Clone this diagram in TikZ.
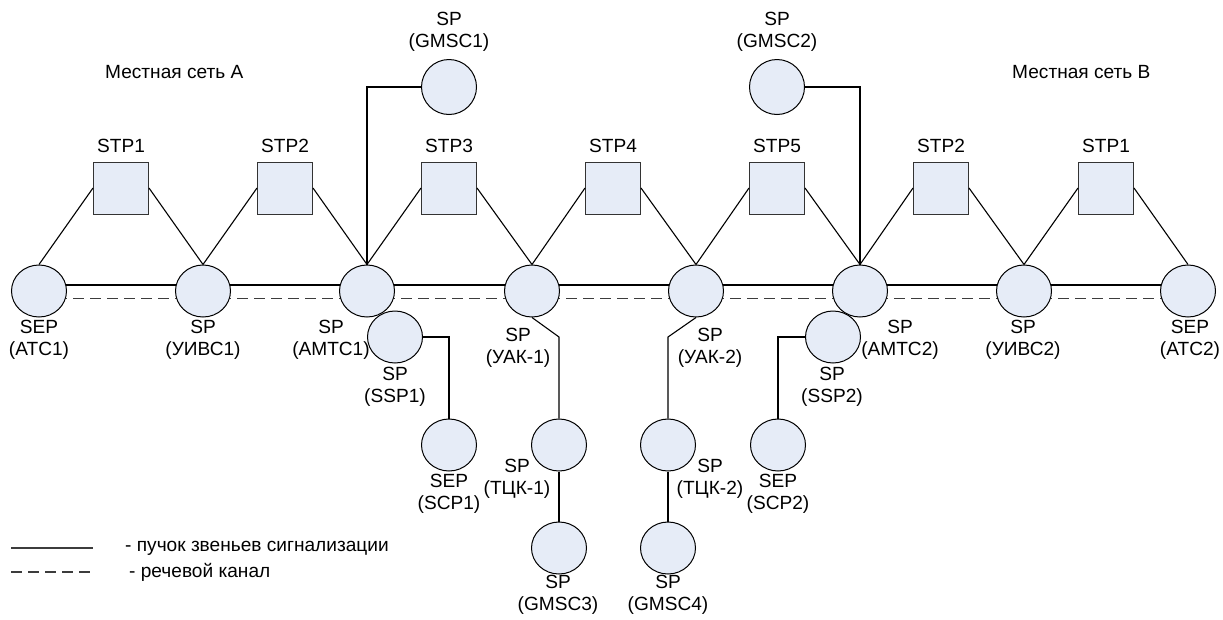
\documentclass[tikz,border=0pt]{standalone}
\usepackage{fontspec}
\setmainfont{Liberation Sans}
\usetikzlibrary{shapes.geometric,backgrounds}
\definecolor{nodefill}{RGB}{230,236,247}
\definecolor{dashgray}{RGB}{60,60,60}

\begin{document}
\begin{tikzpicture}[x=1pt,y=-1pt,
  every node/.style={font=\fontsize{19.1}{22.5}\selectfont},
  station/.style={ellipse, draw=black, fill=nodefill, line width=1pt,
    minimum width=55pt, minimum height=52pt, inner sep=0pt},
  stpbox/.style={rectangle, draw=black!80, fill=nodefill, line width=1pt,
    minimum width=55pt, minimum height=52pt, inner sep=0pt},
  caption/.style={align=center, inner sep=0pt},
  link/.style={line width=1.1pt, draw=black},
  voice/.style={line width=1.1pt, draw=dashgray, dash pattern=on 11pt off 6pt}]

\useasboundingbox (0,0) rectangle (1223,619);

% signalling points of the main chain
\node[station] (atc1)  at (39,291)   {};
\node[station] (uivs1) at (203,291)  {};
\node[station] (amtc1) at (367,291)  {};
\node[station] (uak1)  at (532,291)  {};
\node[station] (uak2)  at (696,291)  {};
\node[station] (amtc2) at (860,291)  {};
\node[station] (uivs2) at (1024,291) {};
\node[station] (atc2)  at (1188,291) {};

% signalling transfer points
\node[stpbox] (stpA1) at (121,188)  {};
\node[stpbox] (stpA2) at (285,188)  {};
\node[stpbox] (stp3)  at (449,188)  {};
\node[stpbox] (stp4)  at (613,188)  {};
\node[stpbox] (stp5)  at (777,188)  {};
\node[stpbox] (stpB2) at (941,188)  {};
\node[stpbox] (stpB1) at (1106,188) {};

\node[caption] (tA1) at (121,146)  {STP1};
\node[caption] (tA2) at (285,146)  {STP2};
\node[caption] (t3)  at (449,146)  {STP3};
\node[caption] (t4)  at (613,146)  {STP4};
\node[caption] (t5)  at (777,146)  {STP5};
\node[caption] (tB2) at (941,146)  {STP2};
\node[caption] (tB1) at (1106,146) {STP1};

% gateway MSCs above
\node[station, minimum height=55pt] (gmsc1) at (449,87) {};
\node[station, minimum height=55pt] (gmsc2) at (777,87) {};
\node[caption] (lg1) at (449,32) {SP\\(GMSC1)};
\node[caption] (lg2) at (777,32) {SP\\(GMSC2)};

% branches below the chain
\node[station] (ssp1)  at (395,337) {};
\node[station] (scp1)  at (449,445) {};
\node[station] (tck1)  at (559,445) {};
\node[station] (tck2)  at (668,445) {};
\node[station] (ssp2)  at (833,337) {};
\node[station] (scp2)  at (778,445) {};
\node[station] (gmsc3) at (559,548) {};
\node[station] (gmsc4) at (668,548) {};

\coordinate (k1) at (559,337);
\coordinate (k2) at (668,337);

% captions of the points
\node[caption] (latc1)  at (39,340)   {SEP\\(АТС1)};
\node[caption] (luivs1) at (203,340)  {SP\\(УИВС1)};
\node[caption] (lamtc1) at (331,340)  {SP\\(АМТС1)};
\node[caption] (luak1)  at (518,348)  {SP\\(УАК-1)};
\node[caption] (luak2)  at (710,348)  {SP\\(УАК-2)};
\node[caption] (lamtc2) at (900,340)  {SP\\(АМТС2)};
\node[caption] (luivs2) at (1023,340) {SP\\(УИВС2)};
\node[caption] (latc2)  at (1190,340) {SEP\\(АТС2)};
\node[caption] (lssp1)  at (395,387)  {SP\\(SSP1)};
\node[caption] (lssp2)  at (832,387)  {SP\\(SSP2)};
\node[caption] (lscp1)  at (449,494)  {SEP\\(SCP1)};
\node[caption] (lscp2)  at (778,494)  {SEP\\(SCP2)};
\node[caption] (ltck1)  at (517,479)  {SP\\(ТЦК-1)};
\node[caption] (ltck2)  at (710,479)  {SP\\(ТЦК-2)};
\node[caption] (lgmsc3) at (558,595)  {SP\\(GMSC3)};
\node[caption] (lgmsc4) at (668,595)  {SP\\(GMSC4)};

% local network titles
\node[caption, anchor=west] (netA) at (105,72)  {Местная сеть А};
\node[caption, anchor=west] (netB) at (1012,72) {Местная сеть B};

\begin{pgfonlayer}{background}
  % signalling link bundles and speech channel along the chain
  \draw[link]  ([yshift=6pt]atc1.center) -- ([yshift=6pt]atc2.center);
  \draw[voice] ([yshift=-7.5pt]atc1.center) -- ([yshift=-7.5pt]uivs1.center);
  \draw[voice] ([yshift=-7.5pt]uivs1.center) -- ([yshift=-7.5pt]amtc1.center);
  \draw[voice] ([yshift=-7.5pt]amtc1.center) -- ([yshift=-7.5pt]uak1.center);
  \draw[voice] ([yshift=-7.5pt]uak1.center) -- ([yshift=-7.5pt]uak2.center);
  \draw[voice] ([yshift=-7.5pt]uak2.center) -- ([yshift=-7.5pt]amtc2.center);
  \draw[voice] ([yshift=-7.5pt]amtc2.center) -- ([yshift=-7.5pt]uivs2.center);
  \draw[voice] ([yshift=-7.5pt]uivs2.center) -- ([yshift=-7.5pt]atc2.center);
\end{pgfonlayer}

% links to the transfer points
\draw[link] (stpA1.west) -- (atc1.north);
\draw[link] (stpA1.east) -- (uivs1.north);
\draw[link] (stpA2.west) -- (uivs1.north);
\draw[link] (stpA2.east) -- (amtc1.north);
\draw[link] (stp3.west)  -- (amtc1.north);
\draw[link] (stp3.east)  -- (uak1.north);
\draw[link] (stp4.west)  -- (uak1.north);
\draw[link] (stp4.east)  -- (uak2.north);
\draw[link] (stp5.west)  -- (uak2.north);
\draw[link] (stp5.east)  -- (amtc2.north);
\draw[link] (stpB2.west) -- (amtc2.north);
\draw[link] (stpB2.east) -- (uivs2.north);
\draw[link] (stpB1.west) -- (uivs2.north);
\draw[link] (stpB1.east) -- (atc2.north);

% gateway and service branches
\draw[link] (gmsc1.west) -| (amtc1.north);
\draw[link] (gmsc2.east) -| (amtc2.north);
\draw[link] (ssp1.east) -| (scp1.north);
\draw[link] (ssp2.west) -| (scp2.north);
\draw[link] (uak1.south) -- (k1) -- (tck1.north);
\draw[link] (uak2.south) -- (k2) -- (tck2.north);
\draw[link] (tck1.south) -- (gmsc3.north);
\draw[link] (tck2.south) -- (gmsc4.north);

% legend
\coordinate (ls1) at (11,548);
\coordinate (ls2) at (93,548);
\coordinate (ld1) at (11,572);
\coordinate (ld2) at (93,572);
\draw[line width=1.3pt, draw=dashgray] (ls1) -- (ls2);
\draw[voice] (ld1) -- (ld2);
\node[caption, anchor=west] (legS) at (125,548) {- пучок звеньев сигнализации};
\node[caption, anchor=west] (legD) at (129,572) {- речевой канал};
\end{tikzpicture}
\end{document}
